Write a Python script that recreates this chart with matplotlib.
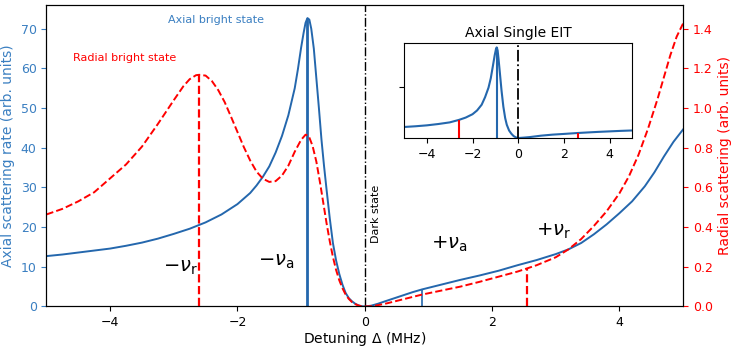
import numpy as np
import matplotlib
matplotlib.use("Agg")
import matplotlib.pyplot as plt

# axial bright state scattering (left axis)
axial_x = [-5.0, -4.75, -4.5, -4.25, -4.0, -3.75, -3.5, -3.25, -3.0, -2.75, -2.5,
           -2.25, -2.0, -1.8, -1.7, -1.6, -1.5, -1.4, -1.3, -1.2, -1.1, -1.05,
           -1.0, -0.96, -0.93, -0.9, -0.87, -0.84, -0.8, -0.76, -0.72, -0.68,
           -0.64, -0.6, -0.55, -0.5, -0.45, -0.4, -0.35, -0.3, -0.25, -0.2,
           -0.15, -0.1, -0.05, 0.0, 0.1, 0.2, 0.3, 0.45, 0.6, 0.75, 0.9,
           1.2, 1.5, 1.8, 2.1, 2.4, 2.7, 3.0, 3.2, 3.4, 3.6, 3.8, 4.0, 4.2,
           4.4, 4.55, 4.7, 4.85, 5.0]
axial_y = [12.7, 13.1, 13.6, 14.1, 14.6, 15.3, 16.1, 17.1, 18.3, 19.6, 21.2,
           23.2, 25.8, 28.6, 30.5, 32.7, 35.3, 38.8, 43.0, 48.2, 55.0, 59.8,
           65.2, 69.0, 71.5, 72.7, 72.3, 70.0, 65.0, 57.5, 50.0, 42.1,
           35.5, 29.5, 22.3, 16.0, 11.6, 8.2, 5.5, 3.4, 2.1, 1.3,
           0.7, 0.3, 0.08, 0.0, 0.2, 0.65, 1.2, 2.0, 2.8, 3.6, 4.3,
           5.5, 6.7, 7.8, 9.0, 10.4, 11.7, 13.2, 14.4, 16.0, 18.2, 20.7, 23.5, 26.5,
           30.3, 33.8, 37.8, 41.5, 44.6]

# radial bright state scattering (right axis)
radial_x = [-5.0, -4.75, -4.5, -4.25, -4.0, -3.75, -3.5, -3.25, -3.0, -2.85,
            -2.75, -2.65, -2.6, -2.5, -2.4, -2.3, -2.2, -2.1, -2.0, -1.9,
            -1.8, -1.7, -1.6, -1.5, -1.4, -1.3, -1.2, -1.1, -1.0, -0.93,
            -0.88, -0.82, -0.76, -0.7, -0.65, -0.6, -0.55, -0.5, -0.45, -0.4,
            -0.35, -0.3, -0.25, -0.2, -0.15, -0.1, -0.05, 0.0,
            0.1, 0.2, 0.35, 0.5, 0.7, 0.9, 1.2, 1.5, 1.8, 2.1, 2.4, 2.7, 3.0,
            3.2, 3.4, 3.6, 3.8, 4.0, 4.15, 4.3, 4.45, 4.6, 4.7, 4.8, 4.9, 5.0]
radial_y = [0.464, 0.492, 0.53, 0.576, 0.646, 0.716, 0.806, 0.92, 1.04, 1.11,
            1.146, 1.166, 1.168, 1.164, 1.136, 1.09, 1.03, 0.956, 0.88, 0.804,
            0.736, 0.68, 0.644, 0.628, 0.632, 0.66, 0.71, 0.78, 0.84, 0.866,
            0.86, 0.81, 0.73, 0.62, 0.52, 0.42, 0.33, 0.25, 0.184, 0.132,
            0.092, 0.06, 0.038, 0.022, 0.012, 0.005, 0.001, 0.0,
            0.001, 0.006, 0.016, 0.028, 0.044, 0.06, 0.08, 0.1, 0.124, 0.15, 0.176, 0.208, 0.248,
            0.288, 0.34, 0.406, 0.48, 0.57, 0.656, 0.764, 0.896, 1.046, 1.156, 1.266, 1.36, 1.426]

# inset: axial single EIT
eit_x = [-5.0, -4.5, -4.0, -3.5, -3.0, -2.6, -2.3, -2.0, -1.8, -1.6,
         -1.45, -1.3, -1.2, -1.1, -1.03, -0.97, -0.94, -0.9, -0.86, -0.8,
         -0.73, -0.65, -0.57, -0.5, -0.4, -0.3, -0.2, -0.1, 0.0,
         0.25, 0.5, 1.0, 1.5, 2.0, 2.6, 3.0, 3.5, 4.0, 4.5, 5.0]
eit_y = [0.108, 0.115, 0.124, 0.137, 0.153, 0.177, 0.2, 0.233, 0.27, 0.326,
         0.4, 0.493, 0.586, 0.716, 0.809, 0.874, 0.887, 0.856, 0.772, 0.632,
         0.465, 0.307, 0.195, 0.13, 0.074, 0.042, 0.019, 0.006, 0.0,
         0.004, 0.009, 0.023, 0.033, 0.04, 0.049, 0.054, 0.06, 0.065, 0.07, 0.074]

nu_a = 0.9
nu_r = 2.6
axial_marks = [72.7, 4.3]      # blue markers at -nu_a, +nu_a
radial_marks = [1.168, 0.19]   # red markers at -nu_r, +nu_r
eit_marks = [0.887, 0.177, 0.049]

blue = "#2467ad"
blue_txt = "#3a7fc1"
red = "red"

fig = plt.figure(figsize=(7.33, 3.48), dpi=100)
ax = fig.add_axes([0.0634, 0.1193, 0.8684, 0.8664])
ax2 = ax.twinx()

ax.plot(axial_x, axial_y, color=blue, lw=1.4)
ax.vlines(-nu_a, 0, axial_marks[0], color=blue, lw=2)
ax.vlines(nu_a, 0, axial_marks[1], color=blue, lw=1.2)
ax.axvline(0, color="k", ls="-.", lw=1)

ax2.plot(radial_x, radial_y, color=red, ls="--", lw=1.4)
ax2.vlines(-nu_r, 0, radial_marks[0], color=red, ls="--", lw=1.6)
ax2.vlines(nu_r - 0.05, 0, radial_marks[1], color=red, ls="--", lw=1.6)

ax.set_xlim(-5, 5)
ax.set_ylim(0, 76)
ax2.set_ylim(0, 1.52)
ax.set_xticks([-4, -2, 0, 2, 4])
ax.set_yticks(np.arange(0, 71, 10))
ax2.set_yticks(np.arange(0, 1.41, 0.2))
ax2.set_yticklabels([f"{v:.1f}" for v in np.arange(0, 1.41, 0.2)])

ax.tick_params(axis="x", labelsize=9)
ax.tick_params(axis="y", labelsize=9, colors=blue_txt)
ax2.tick_params(axis="y", labelsize=9, colors=red)
ax.set_xlabel(r"Detuning $\Delta$ (MHz)", fontsize=10, labelpad=0.5)
ax.set_ylabel("Axial scattering rate (arb. units)", fontsize=10, color=blue_txt)
ax2.set_ylabel("Radial scattering (arb. units)", fontsize=10, color=red)

ax.text(-2.34, 72.3, "Axial bright state", color=blue_txt, fontsize=8,
        ha="center", va="center")
ax.text(-3.77, 62.7, "Radial bright state", color=red, fontsize=8,
        ha="center", va="center")
ax.text(0.18, 23.3, "Dark state", fontsize=8, rotation=90, ha="center", va="center")
ax.text(-2.9, 9.8, r"$-\nu_{\rm r}$", fontsize=14, ha="center", va="center")
ax.text(-1.39, 11.3, r"$-\nu_{\rm a}$", fontsize=14, ha="center", va="center")
ax.text(1.33, 15.6, r"$+\nu_{\rm a}$", fontsize=14, ha="center", va="center")
ax.text(2.97, 18.9, r"$+\nu_{\rm r}$", fontsize=14, ha="center", va="center")

# inset
axin = fig.add_axes([0.5512, 0.6034, 0.3115, 0.273])
axin.plot(eit_x, eit_y, color=blue, lw=1.5)
axin.vlines(-0.94, 0, eit_marks[0], color=blue, lw=1.5)
axin.vlines(-nu_r, 0, eit_marks[1], color=red, lw=1.5)
axin.vlines(nu_r, 0, eit_marks[2], color=red, lw=1.5)
axin.axvline(0, color="k", ls="-.", lw=1.3)
axin.set_xlim(-5, 5)
axin.set_ylim(0, 0.93)
axin.set_xticks([-4, -2, 0, 2, 4])
axin.set_yticks([0.5])
axin.set_yticklabels([""])
axin.tick_params(labelsize=9)
axin.set_title("Axial Single EIT", fontsize=10, pad=4)

fig.savefig("out.png", dpi=100)
